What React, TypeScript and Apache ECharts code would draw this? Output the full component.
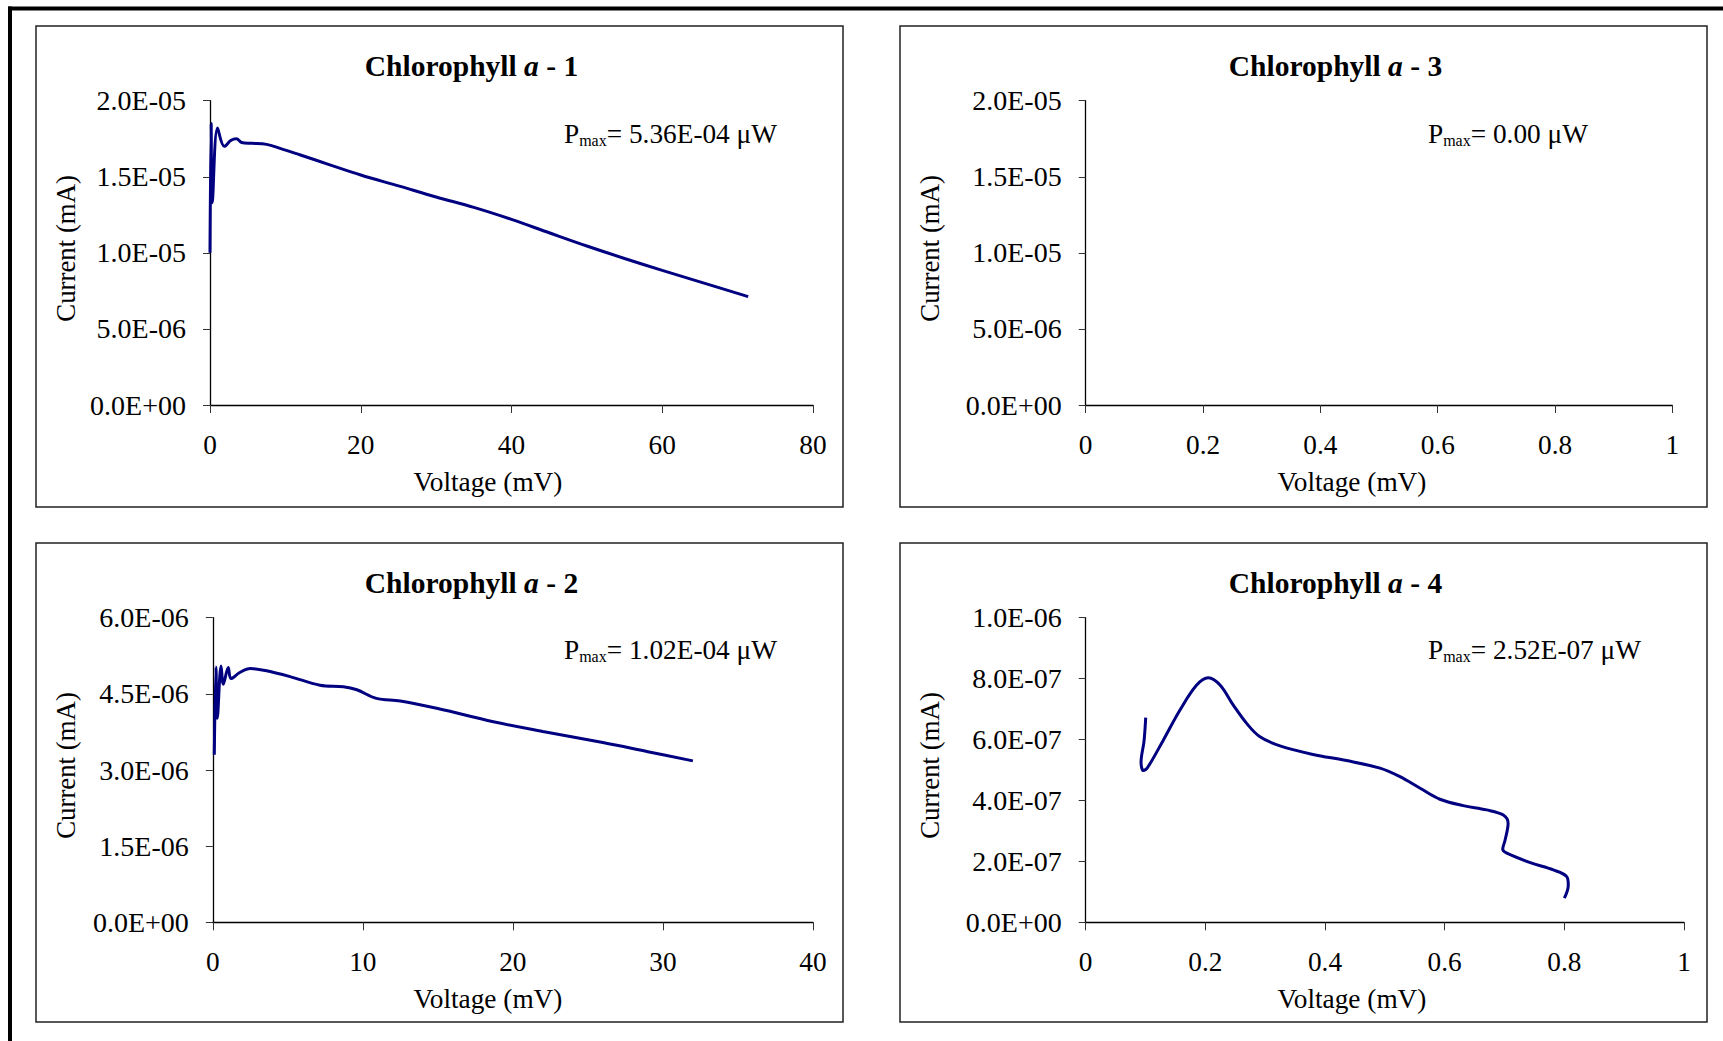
import React, { useEffect, useRef } from 'react';
import * as echarts from 'echarts';

const FONT = '"Liberation Serif", "Times New Roman", serif';

// ---- Data (current in mA, voltage in mV) ----
const chla1Voltage = [0, 0.15, 0.3, 1.0, 1.9, 2.8, 3.5, 4.2, 5.5, 7.5, 9.3, 12, 16, 20, 25, 30, 35, 40, 45, 50, 55, 60, 65, 71.4];
const chla1Current = [10.0e-6, 18.5e-6, 13.3e-6, 18.2e-6, 17.0e-6, 17.4e-6, 17.5e-6, 17.25e-6, 17.2e-6, 17.13e-6, 16.87e-6, 16.43e-6, 15.77e-6, 15.12e-6, 14.4e-6, 13.67e-6, 12.99e-6, 12.2e-6, 11.32e-6, 10.45e-6, 9.63e-6, 8.85e-6, 8.09e-6, 7.12e-6];

const chla2Voltage = [0.1, 0.21, 0.3, 0.55, 0.7, 1.03, 1.21, 1.8, 2.5, 3.5, 5.15, 7.15, 8.7, 9.6, 10.9, 12.5, 15, 18.7, 22, 26, 29, 32];
const chla2Current = [3.30e-6, 5.03e-6, 4.02e-6, 5.05e-6, 4.69e-6, 5.02e-6, 4.80e-6, 4.92e-6, 5.0e-6, 4.96e-6, 4.84e-6, 4.67e-6, 4.64e-6, 4.58e-6, 4.41e-6, 4.36e-6, 4.21e-6, 3.95e-6, 3.76e-6, 3.54e-6, 3.36e-6, 3.18e-6];

const chla3Voltage: number[] = [];
const chla3Current: number[] = [];

const chla4Voltage = [0.1003, 0.0975, 0.0925, 0.0963, 0.104, 0.1297, 0.1576, 0.1855, 0.205, 0.2245, 0.2467, 0.269, 0.2913, 0.3248, 0.38, 0.436, 0.4919, 0.5253, 0.559, 0.592, 0.631, 0.67, 0.698, 0.706, 0.701, 0.697, 0.704, 0.743, 0.7816, 0.804, 0.8066, 0.8];
const chla4Current = [6.72e-7, 5.95e-7, 5.25e-7, 4.98e-7, 5.10e-7, 5.98e-7, 6.97e-7, 7.79e-7, 8.03e-7, 7.79e-7, 7.13e-7, 6.53e-7, 6.09e-7, 5.79e-7, 5.51e-7, 5.31e-7, 5.06e-7, 4.78e-7, 4.40e-7, 4.04e-7, 3.83e-7, 3.69e-7, 3.52e-7, 3.25e-7, 2.70e-7, 2.40e-7, 2.27e-7, 1.96e-7, 1.72e-7, 1.50e-7, 1.22e-7, 0.79e-7];

// panel order: top-left, top-right, bottom-left, bottom-right
const sampleNumbers = ['1', '3', '2', '4'];
const pmaxLabels = ['5.36E-04', '0.00', '1.02E-04', '2.52E-07'];
const xMaxes = [80, 1, 40, 1];
const xIntervals = [20, 0.2, 10, 0.2];
const yMaxes = [2.0e-5, 2.0e-5, 6.0e-6, 1.0e-6];
const yIntervals = [5.0e-6, 5.0e-6, 1.5e-6, 2.0e-7];
const voltages = [chla1Voltage, chla3Voltage, chla2Voltage, chla4Voltage];
const currents = [chla1Current, chla3Current, chla2Current, chla4Current];

const xTitle = 'Voltage (mV)';
const yTitle = 'Current (mA)';

// ---- Layout ----
const grids = [
  { left: 210, top: 100.7, width: 603, height: 304.3 },
  { left: 1085.7, top: 100.7, width: 586.7, height: 304.3 },
  { left: 212.8, top: 617.7, width: 600.1, height: 304.6 },
  { left: 1085.7, top: 617.7, width: 598.3, height: 304.6 },
];
const boxes = [
  { x: 36, y: 26, w: 807, h: 481 },
  { x: 900, y: 26, w: 807, h: 481 },
  { x: 36, y: 543, w: 807, h: 479 },
  { x: 900, y: 543, w: 807, h: 479 },
];

function sci(v: number): string {
  if (v === 0) return '0.0E+00';
  let e = Math.floor(Math.log10(Math.abs(v)) + 1e-9);
  let m = v / Math.pow(10, e);
  if (Number(m.toFixed(1)) >= 10) {
    m /= 10;
    e += 1;
  }
  const sign = e < 0 ? '-' : '+';
  return m.toFixed(1) + 'E' + sign + String(Math.abs(e)).padStart(2, '0');
}

function buildOption() {
  const graphic: any[] = [];
  // outer frame (partially visible)
  graphic.push({ type: 'rect', silent: true, shape: { x: 8, y: 6.5, width: 1715, height: 4 }, style: { fill: '#000' } });
  graphic.push({ type: 'rect', silent: true, shape: { x: 8, y: 6.5, width: 4, height: 1036 }, style: { fill: '#000' } });

  boxes.forEach((b, i) => {
    graphic.push({
      type: 'rect',
      silent: true,
      shape: { x: b.x, y: b.y, width: b.w, height: b.h },
      style: { fill: 'none', stroke: '#222', lineWidth: 1.5 },
    });
    // title
    graphic.push({
      type: 'text',
      x: b.x + 435.5,
      y: b.y + 40,
      style: {
        text: '{b|Chlorophyll }{i|a}{b| - ' + sampleNumbers[i] + '}',
        rich: {
          b: { fontSize: 29.5, fontWeight: 'bold', fontFamily: FONT, fill: '#000' },
          i: { fontSize: 29.5, fontWeight: 'bold', fontStyle: 'italic', fontFamily: FONT, fill: '#000' },
        },
        align: 'center',
        textAlign: 'center',
        verticalAlign: 'middle',
        textVerticalAlign: 'middle',
      },
    });
    // x axis title
    graphic.push({
      type: 'text',
      x: b.x + 452,
      y: grids[i].top + grids[i].height + 77,
      style: {
        text: xTitle,
        fontSize: 27.3,
        fontFamily: FONT,
        fill: '#000',
        align: 'center',
        textAlign: 'center',
        verticalAlign: 'middle',
        textVerticalAlign: 'middle',
      },
    });
    // y axis title
    graphic.push({
      type: 'text',
      x: b.x + 30,
      y: grids[i].top + grids[i].height / 2 - 4.5,
      rotation: Math.PI / 2,
      style: {
        text: yTitle,
        fontSize: 26.8,
        fontFamily: FONT,
        fill: '#000',
        align: 'center',
        textAlign: 'center',
        verticalAlign: 'middle',
        textVerticalAlign: 'middle',
      },
    });
    // Pmax annotation
    graphic.push({
      type: 'text',
      x: b.x + 528,
      y: b.y + (i < 2 ? 107.5 : 106.5),
      style: {
        text: '{p|P}{s|max}{p|= ' + pmaxLabels[i] + ' \u03bcW}',
        rich: {
          p: { fontSize: 27.3, lineHeight: 30, fontFamily: FONT, fill: '#000' },
          s: { fontSize: 16, lineHeight: 16, padding: [14, 0, 0, 0], fontFamily: FONT, fill: '#000' },
        },
        align: 'left',
        textAlign: 'left',
        verticalAlign: 'middle',
        textVerticalAlign: 'middle',
      },
    });
  });

  const axisCommon = {
    type: 'value' as const,
    min: 0,
    axisLine: { show: true, onZero: false, lineStyle: { color: '#000', width: 1.3 } },
    axisTick: { show: true, inside: false, length: 7, lineStyle: { color: '#333', width: 1 } },
    splitLine: { show: false },
  };

  const xAxis = grids.map((_, i) => ({
    ...axisCommon,
    gridIndex: i,
    max: xMaxes[i],
    interval: xIntervals[i],
    axisTick: { ...axisCommon.axisTick, length: 8 },
    axisLabel: { fontSize: 27.3, fontFamily: FONT, color: '#000', margin: 26 },
  }));
  const yAxis = grids.map((_, i) => ({
    ...axisCommon,
    gridIndex: i,
    max: yMaxes[i],
    interval: yIntervals[i],
    axisLabel: { fontSize: 28, fontFamily: FONT, color: '#000', margin: 24, formatter: (v: number) => sci(v) },
  }));

  const series = grids.map((_, i) => ({
    type: 'line' as const,
    xAxisIndex: i,
    yAxisIndex: i,
    data: voltages[i].map((v, k) => [v, currents[i][k]]),
    smooth: 0.35,
    showSymbol: false,
    symbol: 'none',
    clip: false,
    lineStyle: { color: '#000080', width: 3 },
  }));

  return {
    animation: false,
    backgroundColor: '#fff',
    textStyle: { fontFamily: FONT },
    grid: grids.map((g) => ({ ...g, containLabel: false })),
    xAxis,
    yAxis,
    series,
    graphic,
  };
}

export default function App() {
  const ref = useRef<HTMLDivElement>(null);
  useEffect(() => {
    if (!ref.current) return;
    const chart = echarts.init(ref.current, undefined, { renderer: 'svg' });
    chart.setOption(buildOption() as any);
    return () => chart.dispose();
  }, []);
  return (
    <div
      ref={ref}
      style={{ position: 'fixed', left: 0, top: 0, width: 1723, height: 1041, background: '#fff' }}
    />
  );
}
